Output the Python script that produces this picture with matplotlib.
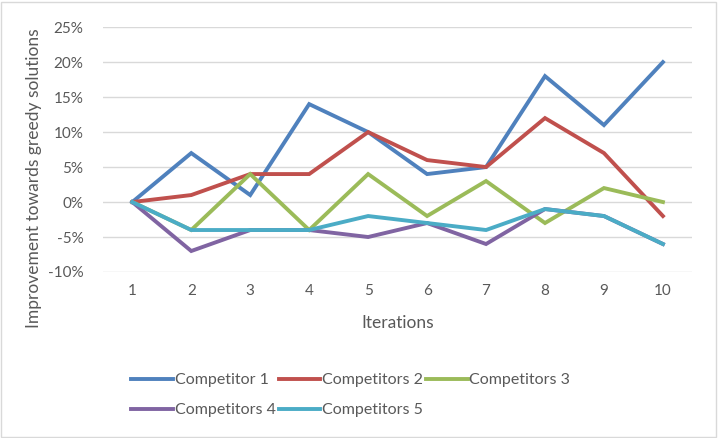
import numpy as np
import matplotlib.pyplot as plt
from matplotlib.patches import Rectangle

plt.rcParams['font.family'] = ['Lato', 'DejaVu Sans']

iterations = [1, 2, 3, 4, 5, 6, 7, 8, 9, 10]
comp1 = [0, 7, 1, 14, 10, 4, 5, 18, 11, 20]
comp2 = [0, 1, 4, 4, 10, 6, 5, 12, 7, -2]
comp3 = [0, -4, 4, -4, 4, -2, 3, -3, 2, 0]
comp4 = [0, -7, -4, -4, -5, -3, -6, -1, -2, -6]
comp5 = [0, -4, -4, -4, -2, -3, -4, -1, -2, -6]
names = ['Competitor 1', 'Competitors 2', 'Competitors 3', 'Competitors 4', 'Competitors 5']
yticks = [-10, -5, 0, 5, 10, 15, 20, 25]

colors = ['#4F81BD', '#C0504D', '#9BBB59', '#8064A2', '#4BACC6']
text_col = '#595959'

fig = plt.figure(figsize=(7.19, 4.38), dpi=100)
fig.patches.append(Rectangle((0.002, 0.003), 0.994, 0.993, transform=fig.transFigure,
                             fill=False, edgecolor='#D9D9D9', linewidth=1))
ax = fig.add_axes([0.143, 0.379, 0.820, 0.559])

x = np.arange(len(iterations))
lines = []
for s, c, n in zip([comp1, comp2, comp3, comp4, comp5], colors, names):
    l, = ax.plot(x, s, color=c, linewidth=2.8, label=n, solid_joinstyle='miter')
    lines.append(l)

ax.set_xlim(-0.5, len(iterations) - 0.5)
ax.set_ylim(-10, 25)
ax.set_yticks(yticks)
ax.set_yticklabels([f'{v}%' for v in yticks])
ax.set_xticks(x)
ax.set_xticklabels([str(i) for i in iterations])
ax.grid(axis='y', color='#D9D9D9', linewidth=1)
ax.set_axisbelow(True)
for sp in ax.spines.values():
    sp.set_visible(False)
ax.tick_params(length=0, labelsize=11, colors=text_col, pad=14)
ax.tick_params(axis='x', pad=9)
ax.set_ylabel('Improvement towards greedy solutions', fontsize=12.5, color=text_col)
ax.yaxis.set_label_coords(-0.103, 0.384)
ax.set_xlabel('Iterations', fontsize=12.5, color=text_col, labelpad=12)

order = [0, 3, 1, 4, 2]
leg = fig.legend([lines[i] for i in order], [names[i] for i in order], ncol=3,
                 loc='upper left', bbox_to_anchor=(0.174, 0.163), frameon=False,
                 fontsize=11.5, handlelength=2.6, handletextpad=0.1, columnspacing=0.2,
                 labelspacing=1.0, borderaxespad=0)
for t in leg.get_texts():
    t.set_color(text_col)

fig.savefig('out.png', dpi=100)
